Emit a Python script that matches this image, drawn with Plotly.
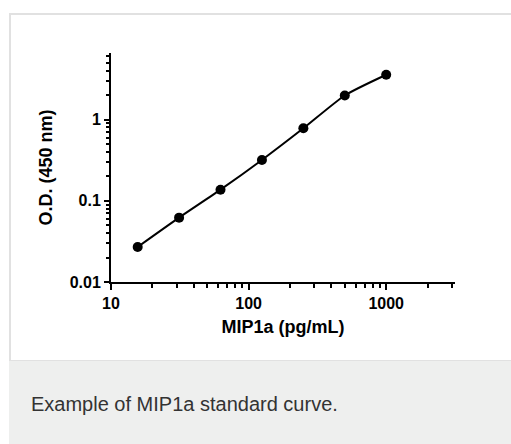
import plotly.graph_objects as go
import math

# Data
concentration = [15.625, 31.25, 62.5, 125, 250, 500, 1000]
od450 = [0.027, 0.062, 0.137, 0.318, 0.78, 1.98, 3.56]
x_tickvals = [10, 100, 1000]
x_ticktext = ["10", "100", "1000"]
y_tickvals = [0.01, 0.1, 1]
y_ticktext = ["0.01", "0.1", "1"]
x_title = "MIP1a (pg/mL)"
y_title = "O.D. (450 nm)"
caption = "Example of MIP1a standard curve."

W, H = 511, 444
L, R, T, B = 111, 455, 53, 282
FONT = "Liberation Sans, Arial, sans-serif"

def px(x):
    return (x - L) / (R - L)

def py(y):
    return (B - y) / (B - T)

fig = go.Figure()
fig.add_trace(go.Scatter(
    x=concentration, y=od450, mode="lines+markers",
    line=dict(color="black", width=2, shape="spline", smoothing=0.6),
    marker=dict(color="black", size=10),
    showlegend=False, cliponaxis=False,
))

shapes = [
    dict(type="rect", xref="paper", yref="paper", layer="below",
         x0=px(10), x1=px(530), y0=py(361), y1=py(14),
         fillcolor="white", line=dict(color="#e1e1e1", width=2)),
    dict(type="rect", xref="paper", yref="paper", layer="below",
         x0=px(9), x1=px(530), y0=py(460), y1=py(361),
         fillcolor="#eeefee", line=dict(width=0)),
]

fig.update_layout(
    width=W, height=H,
    margin=dict(l=L, r=W - R, t=T, b=H - B),
    paper_bgcolor="white", plot_bgcolor="rgba(0,0,0,0)",
    font=dict(family=FONT, color="black"),
    shapes=shapes,
    annotations=[dict(
        text=caption, xref="paper", yref="paper",
        x=px(29), y=py(404), xanchor="left", yanchor="middle",
        showarrow=False, font=dict(size=20, color="#333333", family=FONT),
    )],
)

fig.update_xaxes(
    type="log", range=[1, 3.5], showgrid=False, zeroline=False,
    showline=True, linecolor="black", linewidth=2,
    ticks="outside", ticklen=6, tickwidth=2, tickcolor="black",
    tickvals=x_tickvals, ticktext=x_ticktext,
    tickfont=dict(size=16, color="black", family=FONT, weight="bold"),
    minor=dict(ticks="outside", ticklen=4, tickwidth=2, tickcolor="black",
               tickvals=[20, 30, 40, 50, 60, 70, 80, 90,
                         200, 300, 400, 500, 600, 700, 800, 900, 2000, 3000],
               showgrid=False),
    title=dict(text=x_title, font=dict(size=18, color="black", family=FONT,
                                       weight="bold"),
               standoff=9),
)
fig.update_yaxes(
    type="log", range=[-2, math.log10(6.6)], showgrid=False, zeroline=False,
    showline=True, linecolor="black", linewidth=2,
    ticks="outside", ticklen=5, tickwidth=2, tickcolor="black",
    tickvals=y_tickvals, ticktext=y_ticktext,
    tickfont=dict(size=16, color="black", family=FONT, weight="bold"),
    minor=dict(ticks="outside", ticklen=3, tickwidth=1.5, tickcolor="black",
               tickvals=[0.02, 0.03, 0.04, 0.05, 0.06, 0.07, 0.08, 0.09,
                         0.2, 0.3, 0.4, 0.5, 0.6, 0.7, 0.8, 0.9,
                         2, 3, 4, 5, 6],
               showgrid=False),
    title=dict(text=y_title, font=dict(size=18, color="black", family=FONT,
                                       weight="bold"),
               standoff=12),
)

fig.write_html("out.html",
               config={"displayModeBar": False},
               post_script="document.body.style.margin='0';"
                           "document.body.style.overflow='hidden';")
